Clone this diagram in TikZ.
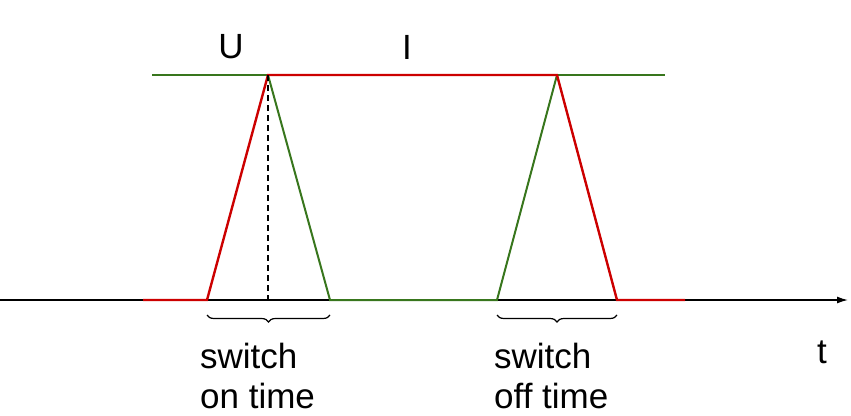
\documentclass[tikz,border=0pt]{standalone}
\usepackage{fontspec}
\setmainfont{Liberation Sans}
\usetikzlibrary{arrows.meta,decorations.pathreplacing}
\definecolor{rd}{RGB}{204,0,0}
\definecolor{gr}{RGB}{56,118,29}
\begin{document}
\begin{tikzpicture}[x=1pt,y=-1pt,
  redl/.style={rd,line width=2.4pt},
  grnl/.style={gr,line width=2pt},
  lbl/.style={font=\fontsize{35}{38}\selectfont,inner sep=0pt,align=left},
  brc/.style={decorate,decoration={brace,mirror,amplitude=7pt},line width=1.2pt}]
\useasboundingbox (0,0) rectangle (851,415);
\coordinate (a0) at (143,300); \coordinate (a1) at (207,300);
\coordinate (p1) at (268,75); \coordinate (g0) at (152,75);
\coordinate (b1) at (330,300); \coordinate (b2) at (497,300);
\coordinate (p2) at (557,75); \coordinate (g1) at (665,75);
\coordinate (c1) at (617,300); \coordinate (c2) at (685,300);
\coordinate (x0) at (0,300); \coordinate (x1) at (848,300);
\coordinate (d0) at (268,300);
\draw[-{Latex[length=11pt,width=7pt]},line width=1.4pt] (x0) -- (x1);
\draw[grnl] (g0) -- (p1);
\draw[grnl] (p2) -- (g1);
\draw[grnl] (p1) -- (b1) -- (b2) -- (p2);
\draw[redl] (a0) -- (a1) -- (p1) -- (p2) -- (c1) -- (c2);
\draw[dash pattern=on 6pt off 4pt,line width=1.2pt] (p1) -- (d0);
\coordinate (br1a) at (207,315); \coordinate (br1b) at (330,315);
\coordinate (br2a) at (497,315); \coordinate (br2b) at (617,315);
\draw[brc] (br1a) -- (br1b);
\draw[brc] (br2a) -- (br2b);
\node[lbl] (u) at (231,47) {U};
\node[lbl] (i) at (407,47) {I};
\node[lbl] (t) at (822,352) {t};
\node[lbl,anchor=west] (s1) at (200,376) {switch\\[2pt]on time};
\node[lbl,anchor=west] (s2) at (494,376) {switch\\[2pt]off time};
\end{tikzpicture}
\end{document}
